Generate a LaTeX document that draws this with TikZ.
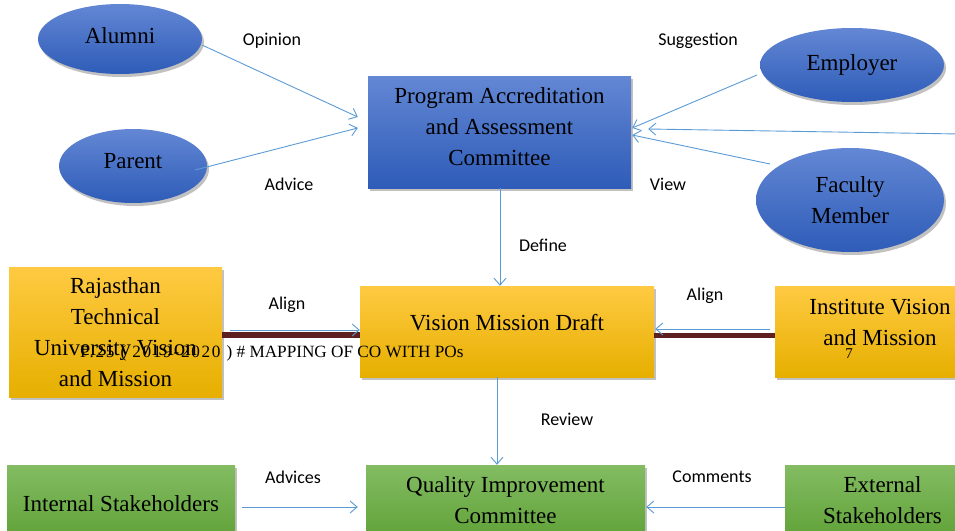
\documentclass[tikz,border=0pt]{standalone}
\usepackage{fontspec}
\setmainfont{Liberation Serif}
\newfontfamily\labelfont{Carlito}
\usetikzlibrary{arrows.meta,shapes.geometric,shadows}

\definecolor{flowblue}{RGB}{91,155,213}
\definecolor{bluetop}{RGB}{99,135,212}
\definecolor{bluebot}{RGB}{46,92,184}
\definecolor{yeltop}{RGB}{255,202,66}
\definecolor{yelmid}{RGB}{255,192,0}
\definecolor{yelbot}{RGB}{230,175,0}
\definecolor{grntop}{RGB}{131,188,98}
\definecolor{grnbot}{RGB}{98,163,58}
\definecolor{barbrown}{RGB}{93,31,31}

\tikzset{
  softshadow/.style={drop shadow={shadow xshift=2pt,shadow yshift=-3pt,opacity=0.35,fill=black!70}},
  bigtext/.style={font=\fontsize{23}{31}\selectfont, text=black, align=center, inner sep=0pt},
  blueoval/.style={ellipse, bigtext, top color=bluetop, bottom color=bluebot, draw=none, softshadow},
  bluebox/.style={rectangle, bigtext, top color=bluetop, bottom color=bluebot, draw=none, softshadow},
  yellowbox/.style={rectangle, bigtext, top color=yeltop, middle color=yelmid, bottom color=yelbot, draw=none, softshadow},
  greenbox/.style={rectangle, bigtext, top color=grntop, bottom color=grnbot, draw=none, softshadow},
  flow/.style={draw=flowblue, line width=0.9pt, -{Straight Barb[length=7pt,width=12pt]}},
  brownbar/.style={draw=barbrown, line width=5.5pt},
  tag/.style={font=\labelfont\fontsize{18}{20}\selectfont, text=black, inner sep=0pt}
}

\begin{document}
\begin{tikzpicture}[x=1pt,y=-1pt]
  \clip (0,0) rectangle (955,530);

  % stakeholder ovals
  \node[blueoval, minimum width=164pt, minimum height=70pt, text depth=6pt] (alumni) at (120,39) {Alumni};
  \node[blueoval, minimum width=148pt, minimum height=74pt, text depth=10pt] (parent) at (133,166) {Parent};
  \node[blueoval, minimum width=184pt, minimum height=74pt] (employer) at (852,65) {Employer};
  \node[blueoval, minimum width=188pt, minimum height=104pt] (faculty) at (850,200) {Faculty\\Member};

  % committees and drafts
  \node[bluebox, minimum width=263pt, minimum height=112pt, text depth=10pt] (prog) at (499.5,132) {Program Accreditation\\and Assessment\\Committee};
  \node[yellowbox, minimum width=294pt, minimum height=91pt, text depth=18pt] (vis) at (507,331.5) {Vision Mission Draft};
  \node[yellowbox, minimum width=213pt, minimum height=130pt] (raj) at (115.5,332) {Rajasthan\\Technical\\University Vision\\and Mission};
  \node[yellowbox, minimum width=210pt, minimum height=91pt, text depth=18pt] (inst) at (880,331.5) {Institute Vision\\and Mission};
  \node[greenbox, minimum width=279pt, minimum height=70pt] (qic) at (505.5,500) {Quality Improvement\\Committee};
  \node[greenbox, minimum width=228pt, minimum height=70pt, text height=24pt] (int) at (121,500) {Internal Stakeholders};
  \node[greenbox, minimum width=195pt, minimum height=70pt] (ext) at (882.5,500) {External\\Stakeholders};

  % heavy bars joining the vision boxes
  \draw[brownbar] ([yshift=-3pt]raj.east) -- ([yshift=-3.5pt]vis.west);
  \draw[brownbar] ([yshift=-4pt]vis.east) -- ([yshift=-4pt]inst.west);

  % feedback into the accreditation committee
  \coordinate (farR) at (960,134);
  \draw[flow] ([shift={(82,6)}]alumni.center) -- ([shift={(-10,-15)}]prog.west);
  \draw[flow] ([shift={(62,4)}]parent.center) -- ([shift={(-10,-4)}]prog.west);
  \draw[flow] ([shift={(-95,10)}]employer.center) -- ([shift={(1,-4)}]prog.east);
  \draw[flow] (farR) -- ([shift={(17,-3)}]prog.east);
  \draw[flow] ([shift={(-80,-36)}]faculty.center) -- ([shift={(1,3)}]prog.east);

  % main flow
  \draw[flow] ([xshift=0.5pt]prog.south) -- ([xshift=0.5pt]prog.south |- vis.north);
  \draw[flow] ([xshift=-10pt]vis.south) -- ([xshift=-10pt]vis.south |- qic.north);
  \draw[flow] ([shift={(8,-2)}]raj.east) -- ([shift={(0,-1.5)}]vis.west);
  \draw[flow] ([shift={(-5,-2.5)}]inst.west) -- ([shift={(1,-2.5)}]vis.east);
  \draw[flow] ([shift={(7,7)}]int.east) -- ([shift={(-8,7)}]qic.west);
  \draw[flow] ([shift={(0,7)}]ext.west) -- ([shift={(1,7)}]qic.east);

  % connector labels
  \node[tag] (tOpinion) at (272,41) {Opinion};
  \node[tag] (tAdvice) at (289,184) {Advice};
  \node[tag] (tSuggest) at (698,41) {Suggestion};
  \node[tag] (tView) at (668,184) {View};
  \node[tag] (tDefine) at (543,245) {Define};
  \node[tag] (tAlignL) at (287,305) {Align};
  \node[tag] (tAlignR) at (705,296) {Align};
  \node[tag] (tReview) at (567,419) {Review};
  \node[tag] (tAdvices) at (293,477) {Advices};
  \node[tag] (tComments) at (712,477) {Comments};

  % page footer text and page number
  \node[anchor=base west, inner sep=0pt, font=\fontsize{17.2}{19}\selectfont] (footer) at (80,357)
    {{\addfontfeature{LetterSpace=10}P.25 ( 2019-2020 )} \# MAPPING OF CO WITH POs};
  \node[anchor=base, inner sep=0pt, font=\fontsize{15}{17}\selectfont] (pageno) at (849,358) {7};
\end{tikzpicture}
\end{document}
